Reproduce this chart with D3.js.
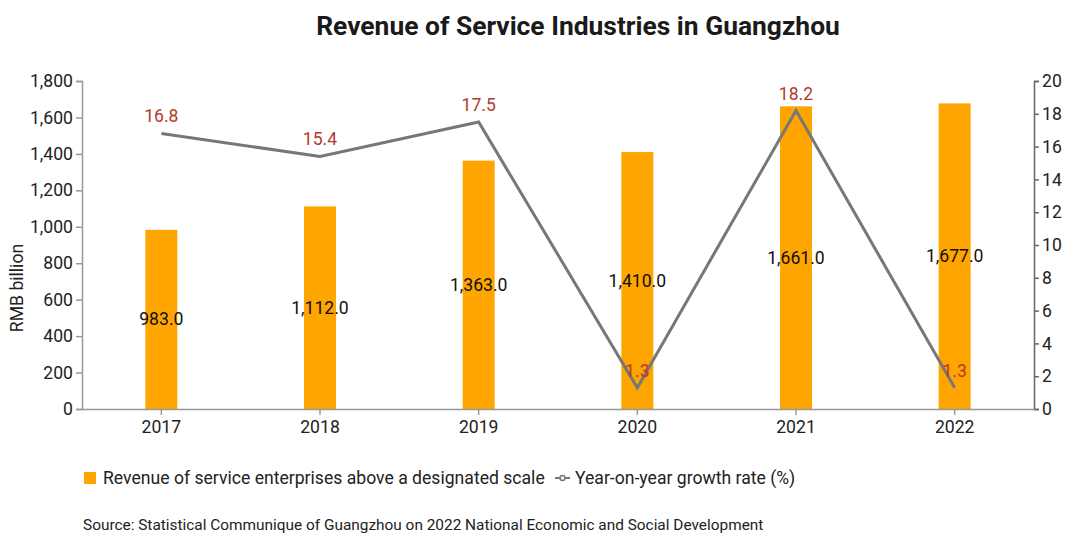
<!DOCTYPE html>
<html><head><meta charset="utf-8">
<script src="https://cdn.jsdelivr.net/npm/d3@7"></script>
<style>body{margin:0;background:#fff;font-family:Roboto,sans-serif;}</style>
</head><body><svg id="c" width="1081" height="542" font-family="Roboto"></svg>
<script>
const years = ["2017","2018","2019","2020","2021","2022"];
const revenue = [983.0, 1112.0, 1363.0, 1410.0, 1661.0, 1677.0];
const growth = [16.8, 15.4, 17.5, 1.3, 18.2, 1.3];
const leftTicks = [0,200,400,600,800,1000,1200,1400,1600,1800];
const rightTicks = [0,2,4,6,8,10,12,14,16,18,20];

const svg = d3.select("#c");
const L = 82, R = 1034, T = 81, B = 409;
const FS = 17.6;
const x = d3.scaleBand().domain(years).range([L, R]).padding(0);
const y = d3.scaleLinear().domain([0,1800]).range([B, T]);
const y2 = d3.scaleLinear().domain([0,20]).range([B, T]);
const fmt = d3.format(",.1f");

svg.append("text").attr("x",578).attr("y",35).attr("text-anchor","middle")
  .attr("font-size",26.4).attr("font-weight","bold").attr("fill","#1a1a1a").text("Revenue of Service Industries in Guangzhou");

// bars
const bw = 32;
svg.selectAll("rect.bar").data(revenue).join("rect")
  .attr("x",(d,i)=>x(years[i])+x.bandwidth()/2-bw/2).attr("width",bw)
  .attr("y",d=>y(d)).attr("height",d=>B-y(d)).attr("fill","#FFA500");

// axes
const gl = svg.append("g").attr("transform",`translate(${L},0)`)
  .call(d3.axisLeft(y).tickValues(leftTicks).tickFormat(d3.format(",")).tickSize(6).tickPadding(3));
gl.selectAll("path,line").attr("stroke","#999").attr("stroke-width",1.5);
gl.selectAll("text").attr("font-size",FS).attr("fill","#222").attr("font-family","Roboto");

const gr = svg.append("g").attr("transform",`translate(${R},0)`)
  .call(d3.axisRight(y2).tickValues(rightTicks).tickSize(5).tickPadding(3));
gr.selectAll("path,line").attr("stroke","#666").attr("stroke-width",1.5);
gr.selectAll("text").attr("font-size",FS).attr("fill","#222").attr("font-family","Roboto");

const gb = svg.append("g").attr("transform",`translate(0,${B})`)
  .call(d3.axisBottom(x).tickSize(6).tickPadding(6).tickSizeOuter(0));
gb.selectAll("path,line").attr("stroke","#999").attr("stroke-width",1.5);
gb.selectAll("text").attr("font-size",FS).attr("fill","#222").attr("font-family","Roboto");

// bar labels
svg.selectAll("text.bl").data(revenue).join("text")
  .attr("x",(d,i)=>x(years[i])+x.bandwidth()/2).attr("y",d=>(y(d)+B)/2+6)
  .attr("text-anchor","middle").attr("font-size",FS).attr("fill","#111").text(d=>fmt(d));

// line
const line = d3.line().x((d,i)=>x(years[i])+x.bandwidth()/2).y(d=>y2(d));
svg.append("path").datum(growth).attr("d",line).attr("fill","none")
  .attr("stroke","#777").attr("stroke-width",3).attr("stroke-linejoin","miter");
svg.selectAll("text.ll").data(growth).join("text")
  .attr("x",(d,i)=>x(years[i])+x.bandwidth()/2).attr("y",d=>y2(d)-11)
  .attr("text-anchor","middle").attr("font-size",FS).attr("fill","#b33a2b").text(d=>d.toFixed(1));

// y title
svg.append("text").attr("transform","translate(23,288) rotate(-90)").attr("text-anchor","middle")
  .attr("font-size",FS).attr("fill","#222").text("RMB billion");

// legend
const ly = 478;
svg.append("rect").attr("x",84).attr("y",ly-6).attr("width",12).attr("height",12).attr("fill","#FFA500");
svg.append("text").attr("x",103).attr("y",ly+6).attr("font-size",FS).attr("fill","#222")
  .text("Revenue of service enterprises above a designated scale");
svg.append("line").attr("x1",555).attr("x2",570).attr("y1",ly).attr("y2",ly).attr("stroke","#777").attr("stroke-width",2);
svg.append("circle").attr("cx",562.5).attr("cy",ly).attr("r",2.5).attr("fill","#fff").attr("stroke","#777").attr("stroke-width",1.5);
svg.append("text").attr("x",575).attr("y",ly+6).attr("font-size",FS).attr("fill","#222")
  .text("Year-on-year growth rate (%)");

svg.append("text").attr("x",83).attr("y",530).attr("font-size",15.4).attr("fill","#222")
  .text("Source: Statistical Communique of Guangzhou on 2022 National Economic and Social Development");
</script></body></html>
